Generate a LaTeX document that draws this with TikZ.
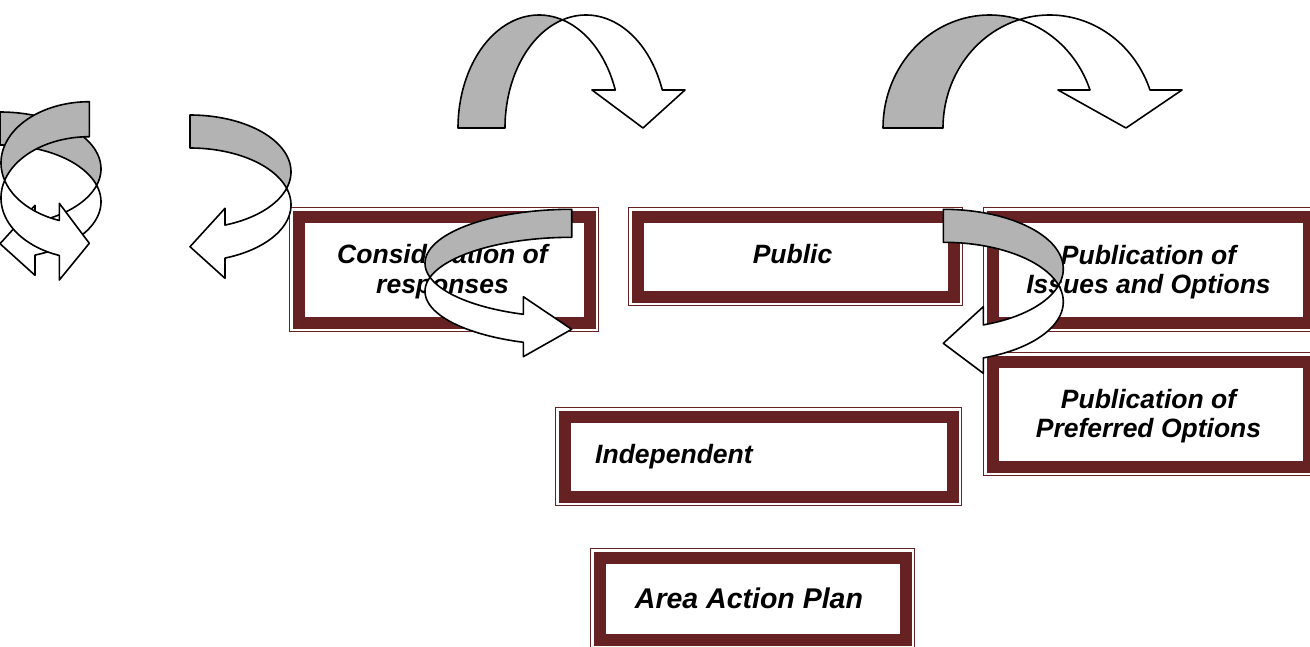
\documentclass[tikz,border=0pt]{standalone}
\usepackage{fontspec}
\setmainfont{Liberation Sans}
\definecolor{maroon}{RGB}{102,34,34}
\definecolor{ribgray}{RGB}{179,179,179}
\tikzset{
  boxband/.style={draw=maroon, line width=12pt, fill=white, inner sep=0pt, outer sep=0pt, rectangle},
  boxrim/.style={draw=maroon, line width=1pt},
  lbl/.style={font=\fontsize{26.5}{29.5}\selectfont\bfseries\itshape, align=center, inner sep=0pt},
  biglbl/.style={font=\fontsize{28.5}{32}\selectfont\bfseries\itshape, align=center, inner sep=0pt},
  ribback/.style={fill=ribgray, draw=black, line width=1.6pt, line join=round},
  ribfront/.style={fill=white, draw=black, line width=1.6pt, line join=round},
}
% box: name, x1, y1, x2, y2 (pixel coordinates of the outer rim)
\newcommand\mybox[5]{%
  \node[boxband, minimum width={#4-#2-19}, minimum height={#5-#3-19}] (#1) at ({(#2+#4)/2},{(#3+#5)/2}) {};
  \draw[boxrim] ([shift={(-9pt,9pt)}]#1.north west) rectangle ([shift={(9pt,-9pt)}]#1.south east);
}
% ribbon arrow: scope options, R, H, th, e, a, b, p
\newcommand\ribarrow[8]{%
  \begin{scope}[#1]
    \pgfmathsetmacro\tcL{acos(-#4/(2*#2))}
    \pgfmathsetmacro\tcR{acos(#4/(2*#2))}
    \pgfmathsetmacro\tE{180-asin(#5/#3)}
    \filldraw[ribback] plot[domain=0:\tcL, samples=50, variable=\t] ({#2-#2*cos(\t)},{#3*sin(\t)})
      -- plot[domain=\tcR:0, samples=50, variable=\t] ({#4+#2-#2*cos(\t)},{#3*sin(\t)}) -- cycle;
    \filldraw[ribfront] plot[domain=\tcR:\tE, samples=60, variable=\t] ({#4+#2-#2*cos(\t)},{#3*sin(\t)})
      -- (#7,#5) -- (#8,0) -- (#6,#5)
      -- plot[domain=\tE:\tcL, samples=50, variable=\t] ({#2-#2*cos(\t)},{#3*sin(\t)}) -- cycle;
  \end{scope}}
\begin{document}
\begin{tikzpicture}[x=1pt, y=-1pt]
\useasboundingbox (0,0) rectangle (1310,646);
\clip (0,0) rectangle (1310,646);
\fill[white] (0,0) rectangle (1310,646);

% boxes
\mybox{bcons}{289}{207}{599}{332}
\mybox{bpub}{628}{207}{963}{306}
\mybox{biss}{983}{207}{1318}{332}
\mybox{bpref}{983}{352}{1318}{476}
\mybox{bind}{555}{407}{962}{506}
\mybox{baap}{590}{548}{915}{649}

% texts
\node[lbl] (tcons) at (442.5,271.5) {Consideration of\\responses};
\node[lbl] (tpub) at (792.5,254) {Public};
\node[lbl] (tiss) at (1148.5,272) {Publication of\\Issues and Options};
\node[lbl] (tpref) at (1148.5,416) {Publication of\\Preferred Options};
\node[lbl, anchor=west] (tind) at (595,457) {Independent};
\node[biglbl] (taap) at (749,598) {Area Action Plan};

% top curved arrows
\ribarrow{shift={(458,128)}, x={(1pt,0pt)}, y={(0pt,1pt)}}{81}{113}{47}{38}{134}{227}{185}
\ribarrow{shift={(883,128)}, x={(1pt,0pt)}, y={(0pt,1pt)}}{106.6}{113}{60}{38}{175}{299}{243}

% left cluster
\ribarrow{shift={(0,112)}, x={(0pt,-1pt)}, y={(1pt,0pt)}}{56.8}{101}{33}{35}{93.3}{163.3}{131.7}
\ribarrow{shift={(89.3,101.7)}, x={(0pt,-1pt)}, y={(-1pt,0pt)}}{61.2}{88.3}{35}{30}{101.6}{178.3}{141.6}

% curved left arrow near first box
\ribarrow{shift={(190,115)}, x={(0pt,-1pt)}, y={(1pt,0pt)}}{56.8}{101}{33}{35}{93.3}{163.3}{131.7}

% middle curved right arrow
\ribarrow{shift={(571.7,209.3)}, x={(0pt,-1pt)}, y={(-1pt,0pt)}}{54}{146.7}{28}{48.4}{87.4}{147.4}{120}

% right curved left arrow
\ribarrow{shift={(943.3,209.3)}, x={(0pt,-1pt)}, y={(1pt,0pt)}}{59.5}{120}{33}{40}{97.4}{164}{134}
\end{tikzpicture}
\end{document}
